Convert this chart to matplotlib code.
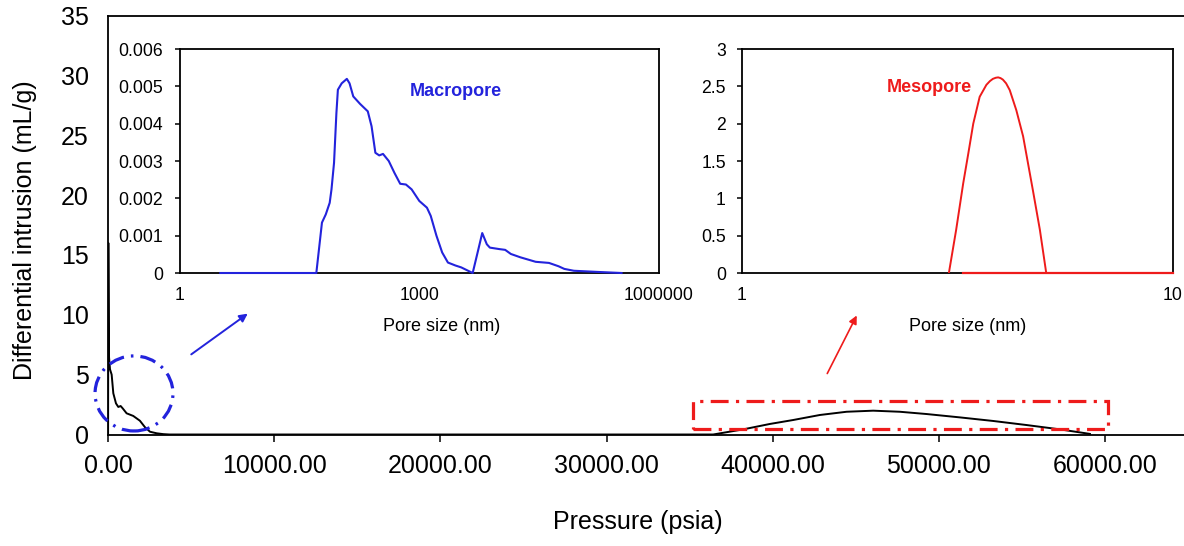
import matplotlib
matplotlib.use("Agg")
import matplotlib.pyplot as plt
from matplotlib.patches import Ellipse, Rectangle, FancyArrowPatch
from matplotlib.ticker import NullLocator

plt.rcParams['font.family'] = ['Liberation Sans', 'DejaVu Sans']

# ---------------- data ----------------
# main curve: differential intrusion vs pressure
pressure_psia = [5, 20, 60, 120, 220, 320, 480, 620, 760, 880, 1120, 1520, 1920,
                 2230, 2530, 2930, 3330, 3700, 36420, 38230, 39830, 41230, 42840, 44450,
                 46050, 47650, 49260, 51260, 53270, 55280, 57280, 59090]
intrusion_mLg = [0, 16, 6.5, 5.45, 5.0, 3.44, 2.6, 2.3, 2.38, 2.19, 1.77, 1.55, 1.15,
                 0.6, 0.23, 0.1, 0.03, 0, 0, 0.43, 0.88, 1.21, 1.63, 1.9,
                 1.99, 1.9, 1.71, 1.43, 1.13, 0.79, 0.43, 0.05]
main_xticks = [0, 10000, 20000, 30000, 40000, 50000, 60000]
main_yticks = [0, 5, 10, 15, 20, 25, 30, 35]

# macropore inset
macro_size_nm = [3.2, 51, 60, 67, 75, 79, 85, 91, 95, 106, 123, 133, 148, 180, 225,
                 251, 280, 313, 349, 412, 486, 573, 676, 797, 994, 1239, 1383, 1630,
                 1923, 2270, 2826, 3334, 4637, 5470, 6107, 6968, 7610, 10020, 11830,
                 13940, 18360, 28510, 41880, 55230, 65140, 85750, 165960, 339600]
macro_value = [0, 0, 0.00135, 0.00157, 0.00188, 0.00224, 0.00295, 0.00428, 0.00491,
               0.00508, 0.0052, 0.00508, 0.00473, 0.00453, 0.00433, 0.00393, 0.00322,
               0.00315, 0.00319, 0.0030, 0.00268, 0.00239, 0.00237, 0.00224, 0.00193,
               0.00175, 0.00153, 0.0010, 0.00055, 0.00028, 0.0002, 0.00015, 0,
               0.00064, 0.00107, 0.00077, 0.00068, 0.00064, 0.00062, 0.00051, 0.00042,
               0.0003, 0.00027, 0.00018, 0.00011, 0.00006, 0.00003, 0]
macro_xticks = [1, 1000, 1000000]
macro_xticklabels = ["1", "1000", "1000000"]
macro_yticks = [0, 0.001, 0.002, 0.003, 0.004, 0.005, 0.006]
macro_yticklabels = ["0", "0.001", "0.002", "0.003", "0.004", "0.005", "0.006"]

# mesopore inset
meso_size_nm = [3.02, 3.14, 3.26, 3.35, 3.44, 3.56, 3.69, 3.76, 3.82, 3.88, 3.93, 3.98,
                4.03, 4.10, 4.18, 4.33, 4.49, 4.73, 4.91, 5.08]
meso_value = [0, 0.58, 1.2, 1.6, 2.0, 2.36, 2.52, 2.57, 2.6, 2.615, 2.62, 2.61,
              2.59, 2.54, 2.45, 2.18, 1.83, 1.11, 0.58, 0]
meso_base_nm = [3.26, 10]
meso_base_value = [0, 0]
meso_xticks = [1, 10]
meso_xticklabels = ["1", "10"]
meso_yticks = [0, 0.5, 1, 1.5, 2, 2.5, 3]
meso_yticklabels = ["0", "0.5", "1", "1.5", "2", "2.5", "3"]

BLUE = '#2323DC'
RED = '#EE1B1B'

W, H = 1184, 546
fig = plt.figure(figsize=(W / 100, H / 100), dpi=100)

def fx(px):
    return px / W

def fy(py):
    return 1 - py / H

# ---------------- main axes ----------------
ax = fig.add_axes([fx(108), fy(434.5), (W - 108) / W, 419 / H])
ax.plot(pressure_psia, intrusion_mLg, color='black', lw=1.4, zorder=3)
ax.set_xlim(0, (W - 108) / 16.617 * 1000)
ax.set_ylim(0, 35)
ax.set_xticks(main_xticks)
ax.set_xticklabels([f"{v:.2f}" for v in main_xticks])
ax.set_yticks(main_yticks)
ax.set_yticklabels([str(v) for v in main_yticks])
ax.tick_params(axis='x', direction='out', length=5, width=1.1, labelsize=18, pad=9)
ax.tick_params(axis='y', length=0, labelsize=18, pad=14)
for s in ['left', 'bottom', 'top']:
    ax.spines[s].set_linewidth(1.3)
ax.spines['right'].set_visible(False)
ax.set_xlabel("Pressure (psia)", fontsize=18, va='center')
ax.xaxis.set_label_coords(0.4926, -0.209)
ax.set_ylabel("Differential intrusion (mL/g)", fontsize=18, va='center')
ax.yaxis.set_label_coords(-0.0776, 0.488)

# highlight shapes
circ = Ellipse((1565, 3.43), width=4690, height=6.27, fill=False, edgecolor=BLUE,
               lw=2.3, linestyle=(0, (5.0, 2.2, 0.8, 2.2)), zorder=4, clip_on=False)
ax.add_patch(circ)
rect = Rectangle((35200, 0.46), 60170 - 35200, 2.8 - 0.46, fill=False, edgecolor=RED,
                 lw=2.3, linestyle=(0, (5.6, 2.3, 1.0, 2.3)), zorder=4, clip_on=False)
ax.add_patch(rect)

# ---------------- macropore inset ----------------
ax1 = fig.add_axes([fx(180), fy(273), 479 / W, 224 / H])
ax1.plot(macro_size_nm, macro_value, color=BLUE, lw=1.5, zorder=3, clip_on=False)
ax1.set_xscale('log')
ax1.set_xlim(1, 1000000)
ax1.set_ylim(0, 0.006)
ax1.set_xticks(macro_xticks)
ax1.set_xticklabels(macro_xticklabels)
ax1.xaxis.set_minor_locator(NullLocator())
ax1.set_yticks(macro_yticks)
ax1.set_yticklabels(macro_yticklabels)
ax1.tick_params(axis='x', length=0, labelsize=12.7, pad=10)
ax1.tick_params(axis='y', direction='out', length=3.6, width=1.1, labelsize=12.7, pad=8.6)
for s in ax1.spines.values():
    s.set_linewidth(1.3)
ax1.set_xlabel("Pore size (nm)", fontsize=13, va='center')
ax1.xaxis.set_label_coords(0.547, -0.241)

# ---------------- mesopore inset ----------------
ax2 = fig.add_axes([fx(742), fy(273), 431 / W, 224 / H])
ax2.plot(meso_size_nm, meso_value, color=RED, lw=1.4, zorder=3)
ax2.plot(meso_base_nm, meso_base_value, color=RED, lw=1.6, zorder=3, clip_on=False)
ax2.set_xscale('log')
ax2.set_xlim(1, 10)
ax2.set_ylim(0, 3)
ax2.set_xticks(meso_xticks)
ax2.set_xticklabels(meso_xticklabels)
ax2.xaxis.set_minor_locator(NullLocator())
ax2.set_yticks(meso_yticks)
ax2.set_yticklabels(meso_yticklabels)
ax2.tick_params(axis='x', length=0, labelsize=12.7, pad=10)
ax2.tick_params(axis='y', direction='out', length=3.6, width=1.1, labelsize=12.7, pad=8)
for s in ax2.spines.values():
    s.set_linewidth(1.3)
ax2.set_xlabel("Pore size (nm)", fontsize=13, va='center')
ax2.xaxis.set_label_coords(0.524, -0.241)

fig.text(fx(456), fy(91.7), "Macropore", fontsize=13, fontweight='bold',
         color=BLUE, ha='center', va='center')
fig.text(fx(929), fy(87), "Mesopore", fontsize=13,
         fontweight='bold', color=RED, ha='center', va='center')

# arrows
fig.add_artist(FancyArrowPatch((fx(189), fy(356)), (fx(250), fy(312)),
                               transform=fig.transFigure, arrowstyle='-|>',
                               mutation_scale=12, color=BLUE, lw=1.4))
fig.add_artist(FancyArrowPatch((fx(826), fy(376)), (fx(858), fy(313)),
                               transform=fig.transFigure, arrowstyle='-|>',
                               mutation_scale=12, color=RED, lw=1.2))

fig.savefig("out.png", dpi=100)
